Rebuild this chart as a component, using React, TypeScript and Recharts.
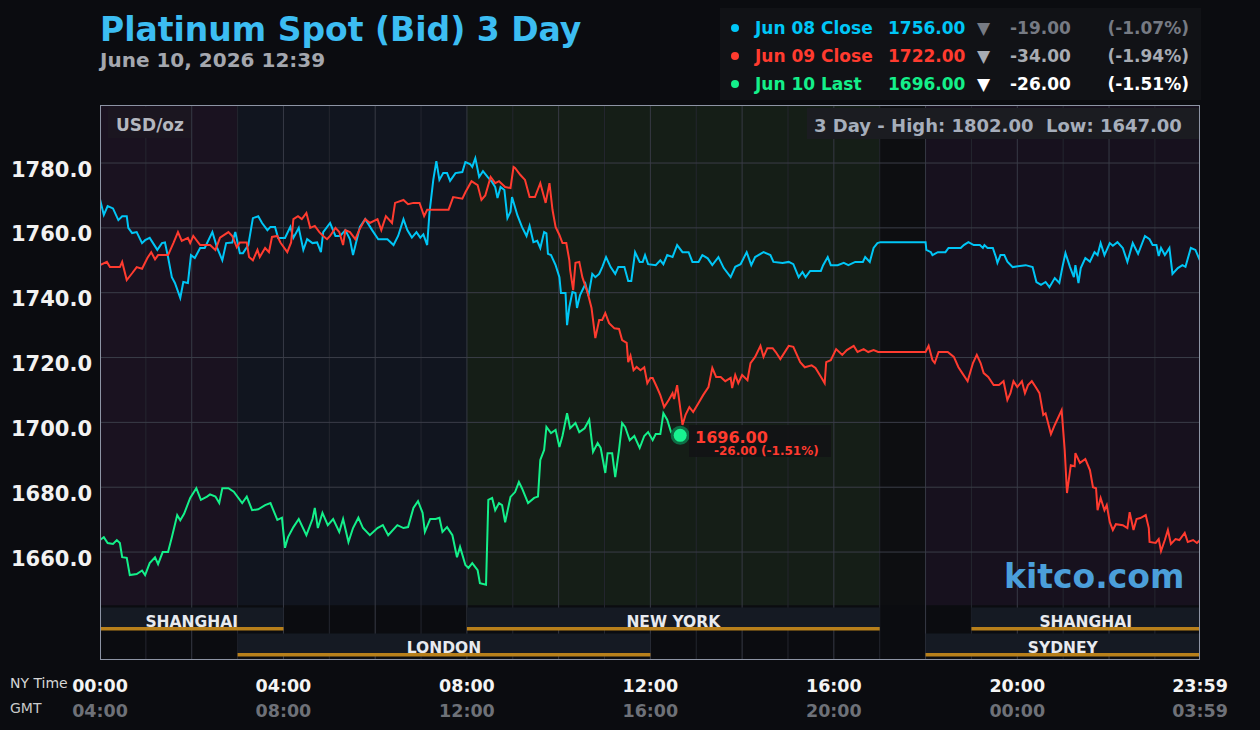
import {
  LineChart,
  Line,
  XAxis,
  YAxis,
  ReferenceArea,
  ReferenceLine,
  ReferenceDot,
} from "recharts";

const FONT = '"DejaVu Sans", Verdana, sans-serif';
const BG = "#0b0c10";
const BLUE = "#00c6f6";
const RED = "#ff3b2f";
const GREEN = "#14f08a";

// minutes after 00:00 NY time, bid in USD/oz
const JUN08_MIN = [0,5,10,17,24,29,35,37,42,48,55,59,65,75,81,85,89,94,98,105,109,115,119,124,131,137,147,153,160,165,173,177,183,187,194,200,207,212,219,223,229,233,242,249,253,260,266,271,278,284,289,292,301,308,314,321,327,331,340,347,356,364,376,384,390,397,402,408,414,419,423,428,431,436,440,444,449,454,458,465,474,478,484,487,491,496,501,507,513,517,520,524,529,533,537,539,546,552,558,562,567,572,576,581,584,586,590,596,601,603,609,611,614,618,622,624,628,635,639,644,648,653,657,662,668,674,678,686,691,695,700,706,710,713,717,727,733,737,742,749,755,762,770,775,783,788,795,801,809,816,825,831,838,846,852,857,868,877,881,893,901,907,914,919,923,929,943,946,952,956,965,973,979,988,998,1001,1007,1012,1017,1021,1080,1081,1087,1089,1096,1106,1110,1126,1130,1136,1143,1151,1155,1157,1161,1168,1172,1174,1178,1183,1187,1194,1211,1220,1225,1231,1237,1242,1249,1255,1259,1263,1269,1274,1276,1280,1283,1289,1295,1301,1305,1309,1314,1321,1325,1331,1338,1344,1351,1358,1367,1373,1377,1382,1385,1388,1393,1399,1403,1410,1416,1420,1427,1433,1439];
const JUN08_BID = [1768.8,1764.0,1766.7,1766.0,1762.4,1763.6,1763.6,1760.0,1758.4,1758.7,1755.3,1756.2,1756.9,1753.2,1755.3,1755.5,1751.0,1744.8,1743.0,1738.4,1743.3,1743.0,1751.6,1750.7,1753.8,1753.8,1758.7,1754.0,1750.0,1755.3,1755.5,1758.7,1752.2,1752.2,1754.7,1763.0,1763.6,1761.5,1759.3,1760.3,1760.3,1756.9,1756.9,1760.3,1756.9,1760.0,1753.2,1756.5,1755.3,1755.5,1752.5,1758.7,1761.5,1757.5,1757.5,1759.3,1756.5,1751.6,1760.3,1762.7,1759.3,1756.5,1756.5,1754.7,1757.5,1762.7,1759.3,1757.0,1758.7,1757.0,1758.0,1754.7,1764.6,1774.8,1780.6,1774.8,1776.9,1776.9,1774.5,1776.9,1777.2,1780.3,1779.7,1778.8,1781.5,1775.7,1777.5,1775.7,1774.1,1772.6,1769.2,1772.6,1771.7,1763.0,1765.0,1769.5,1763.9,1760.3,1757.5,1760.6,1755.6,1756.0,1753.8,1758.7,1758.3,1752.0,1751.6,1748.5,1744.8,1739.9,1739.9,1730.0,1735.6,1740.2,1739.9,1735.3,1739.3,1742.7,1739.0,1745.8,1744.8,1745.8,1747.9,1751.0,1747.9,1745.8,1747.9,1747.9,1743.6,1743.6,1752.5,1749.5,1749.5,1751.6,1748.8,1748.5,1750.0,1748.8,1751.6,1751.0,1754.7,1752.5,1752.5,1749.5,1749.5,1751.6,1750.6,1748.5,1751.0,1747.6,1744.8,1748.0,1748.8,1752.5,1748.5,1751.0,1752.5,1751.6,1749.5,1749.2,1749.5,1748.8,1744.8,1746.4,1744.8,1746.7,1746.7,1748.5,1751.0,1748.5,1748.5,1749.2,1748.5,1749.5,1749.5,1751.0,1749.5,1753.8,1755.3,1755.6,1755.6,1753.2,1752.5,1751.6,1752.5,1752.5,1753.8,1753.8,1754.7,1755.6,1754.7,1754.7,1753.8,1754.7,1753.8,1753.8,1751.0,1749.2,1751.6,1751.6,1749.6,1747.9,1748.5,1747.9,1743.3,1742.4,1743.3,1741.7,1744.5,1743.0,1747.9,1752.2,1747.9,1744.8,1748.5,1743.0,1747.6,1750.7,1749.6,1752.5,1751.6,1755.3,1751.6,1755.3,1754.5,1755.6,1753.8,1749.5,1755.3,1752.0,1757.5,1756.5,1754.7,1754.7,1751.3,1753.8,1751.6,1753.8,1745.8,1747.6,1748.5,1748.0,1753.8,1753.2,1749.9];

const JUN09_MIN = [0,9,13,26,29,35,42,48,55,62,67,72,76,89,96,102,107,115,118,122,131,144,151,157,168,173,179,183,192,195,200,206,209,216,221,225,232,236,245,250,253,259,264,270,275,281,287,292,297,301,308,313,318,321,327,334,339,347,353,363,368,374,382,386,397,403,410,418,424,428,456,462,474,478,486,494,499,504,511,517,522,530,537,541,543,550,556,562,569,576,583,588,592,596,601,605,610,614,615,619,622,627,631,638,643,648,653,657,661,666,673,679,683,689,691,694,698,702,707,712,716,720,723,729,733,738,744,749,751,755,762,766,771,776,783,789,796,801,806,812,818,825,827,831,835,840,847,851,857,864,868,873,880,884,890,901,907,916,922,931,936,944,948,950,956,963,971,977,986,991,999,1005,1012,1018,1080,1084,1089,1092,1097,1109,1117,1123,1128,1135,1142,1147,1152,1156,1162,1169,1176,1182,1187,1191,1195,1200,1206,1210,1214,1219,1224,1229,1234,1237,1244,1249,1258,1262,1265,1270,1275,1276,1282,1289,1295,1299,1303,1305,1309,1314,1317,1321,1325,1329,1338,1344,1347,1352,1356,1361,1368,1372,1373,1381,1385,1388,1393,1397,1401,1407,1412,1419,1423,1430,1435,1439];
const JUN09_BID = [1748.5,1749.5,1747.9,1747.9,1749.5,1743.9,1746.0,1747.9,1747.4,1750.7,1752.5,1750.3,1751.6,1751.6,1755.3,1758.7,1756.0,1756.9,1755.3,1757.5,1754.7,1754.7,1753.2,1757.0,1758.7,1757.5,1754.0,1755.5,1755.5,1751.0,1750.0,1753.2,1751.0,1753.8,1752.5,1757.2,1757.5,1755.5,1752.5,1755.5,1762.7,1763.6,1762.7,1764.6,1760.0,1760.6,1758.7,1757.5,1756.5,1757.5,1760.0,1758.7,1754.7,1759.3,1758.7,1756.5,1759.3,1762.7,1761.5,1762.7,1759.3,1763.6,1761.5,1767.7,1768.6,1767.3,1767.7,1767.7,1763.6,1765.6,1765.6,1769.5,1769.0,1771.0,1774.4,1773.2,1768.6,1770.0,1775.7,1773.8,1774.4,1772.6,1772.3,1778.8,1778.5,1776.3,1774.8,1769.5,1769.5,1773.8,1767.7,1773.8,1765.5,1760.3,1757.8,1755.3,1755.3,1750.0,1747.0,1740.8,1749.2,1749.5,1744.8,1739.9,1735.3,1726.0,1731.6,1731.6,1733.7,1730.6,1729.0,1728.8,1725.4,1724.5,1718.6,1720.6,1716.1,1717.1,1716.1,1717.0,1712.1,1713.7,1713.7,1710.6,1708.4,1704.7,1706.9,1709.0,1707.2,1711.5,1699.2,1702.3,1704.7,1703.2,1706.0,1708.4,1710.9,1716.8,1714.0,1714.0,1712.7,1713.7,1710.6,1714.6,1712.1,1714.6,1713.0,1718.3,1720.2,1723.6,1720.2,1722.9,1722.9,1721.7,1719.5,1723.6,1723.3,1718.6,1717.0,1717.6,1716.8,1713.7,1712.1,1718.6,1719.2,1722.6,1720.8,1722.3,1723.6,1721.7,1722.6,1721.7,1722.3,1721.7,1721.7,1723.6,1719.2,1718.3,1721.7,1721.7,1720.2,1717.0,1715.2,1712.7,1718.3,1720.8,1718.3,1715.2,1714.0,1711.5,1711.5,1712.7,1706.9,1709.0,1712.7,1710.9,1712.7,1709.0,1711.5,1712.7,1710.9,1709.0,1702.3,1702.8,1696.4,1699.2,1703.8,1691.5,1678.2,1686.8,1686.5,1690.5,1687.5,1688.7,1685.3,1680.0,1679.7,1672.9,1676.7,1672.9,1674.5,1669.2,1666.8,1668.6,1668.3,1667.4,1672.3,1666.8,1670.2,1670.5,1671.4,1667.4,1663.1,1662.8,1664.0,1660.3,1663.7,1666.8,1662.5,1664.0,1663.7,1665.9,1663.1,1663.7,1662.8,1663.7];

const JUN10_MIN = [0,5,10,17,22,26,29,35,39,48,55,59,65,72,76,82,89,94,101,105,110,118,126,132,140,144,151,156,160,168,175,186,192,199,207,216,223,232,238,242,246,253,260,270,278,281,285,291,298,305,313,318,325,331,338,344,353,363,370,377,389,397,403,410,416,422,425,432,439,444,448,454,461,467,471,478,482,487,494,497,505,508,513,517,522,526,530,537,543,548,552,560,568,573,576,581,584,590,596,601,605,611,615,622,627,634,640,645,651,655,661,664,670,674,679,683,687,693,699,706,712,717,723,727,733,737,742,747,754,759];
const JUN10_BID = [1663.7,1664.6,1662.8,1662.5,1663.7,1662.8,1658.4,1658.2,1652.9,1653.2,1654.3,1652.9,1656.6,1658.4,1656.3,1660.0,1660.0,1664.6,1671.4,1669.8,1671.8,1676.7,1679.7,1676.1,1677.1,1677.8,1677.1,1675.1,1679.7,1679.7,1678.6,1675.1,1677.1,1672.9,1673.2,1674.5,1675.1,1669.9,1670.6,1661.3,1664.6,1667.7,1670.2,1665.2,1670.2,1673.6,1667.4,1672.1,1668.3,1670.2,1666.2,1670.2,1663.1,1667.4,1670.6,1667.4,1665.2,1667.4,1668.3,1665.2,1668.3,1667.4,1667.7,1673.6,1675.7,1672.1,1666.2,1670.2,1670.2,1670.6,1666.2,1667.7,1665.2,1658.4,1661.6,1656.0,1655.1,1656.6,1654.4,1650.4,1649.9,1676.1,1676.7,1672.9,1675.1,1674.5,1669.2,1677.0,1678.5,1681.6,1679.7,1675.1,1676.7,1677.1,1688.4,1691.5,1698.6,1696.7,1697.7,1692.4,1695.8,1702.8,1698.2,1699.8,1697.0,1698.2,1700.8,1690.9,1693.6,1692.1,1684.4,1690.5,1690.5,1683.1,1691.5,1699.8,1698.6,1694.5,1695.8,1692.1,1695.8,1697.0,1694.5,1696.4,1696.4,1702.8,1700.8,1697.0,1694.5,1696.0];

const Y_TICKS = [1660, 1680, 1700, 1720, 1740, 1760, 1780];
const Y_DOMAIN = [1626.7, 1797.9];
const X_TICKS = [0, 240, 480, 720, 960, 1200, 1439];
const NY_LABELS = ["00:00", "04:00", "08:00", "12:00", "16:00", "20:00", "23:59"];
const GMT_LABELS = ["04:00", "08:00", "12:00", "16:00", "20:00", "00:00", "03:59"];

// background market zones
const ZONE_FROM = [0, 180, 480, 1020, 1080];
const ZONE_TO = [180, 480, 1020, 1080, 1439];
const ZONE_FILL = ["#1a1220", "#11151f", "#151e17", "#0d0e11", "#17111e"];
const ZONE_FLOOR = 1643.6;

const HOURS = Array.from({ length: 23 }, (_, i) => (i + 1) * 60);

// session bars (minutes)
const SESSION_NAMES = ["SHANGHAI", "NEW YORK", "SHANGHAI", "LONDON", "SYDNEY"];
const SESSION_FROM = [0, 480, 1140, 180, 1080];
const SESSION_TO = [240, 1020, 1439, 720, 1439];
const SESSION_ROW = [0, 0, 0, 1, 1];

const LEGEND_LABELS = ["Jun 08 Close", "Jun 09 Close", "Jun 10 Last"];
const LEGEND_PRICES = ["1756.00", "1722.00", "1696.00"];
const LEGEND_CHANGES = ["-19.00", "-34.00", "-26.00"];
const LEGEND_PCTS = ["(-1.07%)", "(-1.94%)", "(-1.51%)"];
const LEGEND_COLORS = [BLUE, RED, GREEN];
const LEGEND_DIM = ["#767a83", "#a8acb3", "#ffffff"];

const LAST_MIN = 759;
const LAST_BID = 1696.0;

const toRows = (mins: number[], vals: number[]) =>
  mins.map((t, i) => ({ t, v: vals[i] }));

const jun08 = toRows(JUN08_MIN, JUN08_BID);
const jun09 = toRows(JUN09_MIN, JUN09_BID);
const jun10 = toRows(JUN10_MIN, JUN10_BID);

const minToX = (m: number) => 100 + (m / 1439) * 1100;

const PriceTick = (props: any) => (
  <text
    x={92}
    y={props.y + 13.5}
    textAnchor="end"
    fill="#f2f2f2"
    fontFamily={FONT}
    fontWeight="bold"
    fontSize={21}
  >
    {props.payload.value.toFixed(1)}
  </text>
);

const TimeTick = (props: any) => {
  const i = X_TICKS.indexOf(props.payload.value);
  return (
    <g>
      <text x={props.x} y={692} textAnchor="middle" fill="#f4f4f4" fontFamily={FONT} fontWeight="bold" fontSize={17.5}>
        {NY_LABELS[i]}
      </text>
      <text x={props.x} y={717} textAnchor="middle" fill="#6e7178" fontFamily={FONT} fontWeight="bold" fontSize={17.5}>
        {GMT_LABELS[i]}
      </text>
    </g>
  );
};

const App = () => {
  return (
    <div style={{ position: "absolute", left: 0, top: 0, width: 1260, height: 730, background: BG, overflow: "hidden" }}>
      <LineChart width={1260} height={730} margin={{ top: 105, right: 60, bottom: 0, left: 10 }}>
        <XAxis
          type="number"
          dataKey="t"
          domain={[0, 1439]}
          ticks={X_TICKS}
          tick={(p: any) => <TimeTick {...p} />}
          axisLine={false}
          tickLine={false}
          height={70}
          allowDataOverflow
        />
        <YAxis
          type="number"
          domain={Y_DOMAIN}
          ticks={Y_TICKS}
          tick={(p: any) => <PriceTick {...p} />}
          axisLine={false}
          tickLine={false}
          width={90}
          allowDataOverflow
        />
        {ZONE_FROM.map((x1, i) => (
          <ReferenceArea
            key={"z" + i}
            x1={x1}
            x2={ZONE_TO[i]}
            y1={ZONE_FLOOR}
            y2={Y_DOMAIN[1]}
            fill={ZONE_FILL[i]}
            fillOpacity={1}
            stroke="none"
            ifOverflow="extendDomain"
          />
        ))}
        {HOURS.map((h) => (
          <ReferenceLine key={"h" + h} x={h} stroke={h % 120 === 0 ? "#373a45" : "#24262f"} strokeWidth={1} />
        ))}
        {Y_TICKS.map((v) => (
          <ReferenceLine key={"y" + v} y={v} stroke="#3a3d48" strokeWidth={1} />
        ))}
        <Line data={jun08} dataKey="v" type="linear" stroke={BLUE} strokeWidth={2} dot={false} isAnimationActive={false} />
        <Line data={jun09} dataKey="v" type="linear" stroke={RED} strokeWidth={2} dot={false} isAnimationActive={false} />
        <Line data={jun10} dataKey="v" type="linear" stroke={GREEN} strokeWidth={2} dot={false} isAnimationActive={false} />
        <ReferenceDot x={LAST_MIN} y={LAST_BID} r={9.5} fill="#0e6e45" stroke="none" />
        <ReferenceDot x={LAST_MIN} y={LAST_BID} r={6.5} fill="#18f490" stroke="none" />
      </LineChart>

      <svg width={1260} height={730} style={{ position: "absolute", left: 0, top: 0, pointerEvents: "none" }} fontFamily={FONT}>
        {/* title */}
        <text x={100} y={41} fill="#3cbdf2" fontSize={33} fontWeight="bold">Platinum Spot (Bid) 3 Day</text>
        <text x={100} y={67} fill="#a4a7ae" fontSize={20} fontWeight="bold">June 10, 2026 12:39</text>

        {/* legend */}
        <rect x={720} y={8} width={481} height={92} fill="#111216" />
        {LEGEND_LABELS.map((lab, i) => {
          const y = 34 + i * 28;
          return (
            <g key={lab} fontSize={17} fontWeight="bold">
              <circle cx={735} cy={y - 6} r={4} fill={LEGEND_COLORS[i]} />
              <text x={755} y={y} fill={LEGEND_COLORS[i]}>{lab}</text>
              <text x={888} y={y} fill={LEGEND_COLORS[i]}>{LEGEND_PRICES[i]}</text>
              <text x={983.5} y={y} fill={LEGEND_DIM[i]} textAnchor="middle">▼</text>
              <text x={1010} y={y} fill={LEGEND_DIM[i]}>{LEGEND_CHANGES[i]}</text>
              <text x={1189} y={y} fill={LEGEND_DIM[i]} textAnchor="end">{LEGEND_PCTS[i]}</text>
            </g>
          );
        })}

        {/* in-plot labels */}
        <rect x={108} y={107} width={83} height={31} fill="#1b1620" />
        <text x={116} y={131} fill="#b4b7bf" fontSize={17} fontWeight="bold">USD/oz</text>
        <rect x={807} y={108} width={392} height={31} fill="#1b1c21" />
        <text x={814} y={131.5} fill="#a6aebb" fontSize={18} fontWeight="bold" style={{ whiteSpace: "pre" }}>
          {"3 Day - High: 1802.00  Low: 1647.00"}
        </text>
        <text x={1004} y={588} fill="#4b9fda" fontSize={33} fontWeight="bold">kitco.com</text>

        {/* last value label */}
        <rect x={689} y={425} width={142} height={32} fill="#121416" fillOpacity={0.92} />
        <text x={695} y={442.5} fill={RED} fontSize={16} fontWeight="bold">1696.00</text>
        <text x={714} y={455} fill={RED} fontSize={12} fontWeight="bold">-26.00 (-1.51%)</text>

        {/* sessions */}
        {SESSION_NAMES.map((name, i) => {
          const x1 = minToX(SESSION_FROM[i]);
          const x2 = minToX(SESSION_TO[i]);
          const top = SESSION_ROW[i] === 0 ? 607.5 : 633.5;
          return (
            <g key={name + i}>
              <rect x={x1} y={top} width={x2 - x1} height={20} fill="#151a23" />
              <rect x={x1} y={top + 19.5} width={x2 - x1} height={3.5} fill="#b8801b" />
              <text x={(x1 + x2) / 2} y={top + 19.5} textAnchor="middle" fill="#e8eaef" fontSize={15.5} fontWeight="bold">
                {name}
              </text>
            </g>
          );
        })}

        {/* frame */}
        <rect x={100.5} y={105.5} width={1099} height={554} fill="none" stroke="#8d94a4" strokeWidth={1} />

        <text x={10} y={688} fill="#d6d6d6" fontSize={14}>NY Time</text>
        <text x={10} y={713} fill="#c9c9c9" fontSize={14}>GMT</text>
      </svg>
    </div>
  );
};

export default App;
